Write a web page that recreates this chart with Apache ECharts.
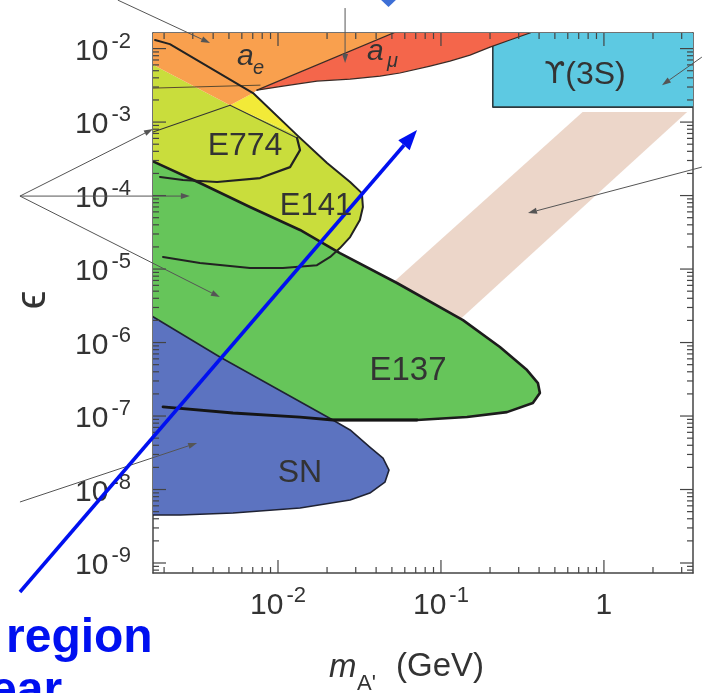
<!DOCTYPE html>
<html>
<head>
<meta charset="utf-8">
<script src="https://cdn.jsdelivr.net/npm/echarts@6/dist/echarts.min.js"></script>
<style>
html, body { margin: 0; padding: 0; background: #fff; }
#chart { width: 702px; height: 693px; }
</style>
</head>
<body>
<div id="chart"></div>
<script>
// Dark photon A' parameter space: mass m_A' (GeV) against kinetic mixing ϵ.
// Every region is a list of [mass, epsilon] vertices.

const massRange = [1.71e-3, 3.52];
const epsRange = [7.31e-10, 1.63e-2];

// electron g-2
const aeRegion = [[1.64e-3,1.9e-2],[6.01e-2,1.9e-2],[7.43e-3,2.72e-3],[7.03e-3,2.48e-3],[5.08e-3,1.70e-3],[1.64e-3,6.35e-3]];
// muon g-2
const amuRegion = [[6.01e-2,1.9e-2],[0.405,1.9e-2],[0.3516,1.63e-2],[0.265,1.31e-2],[0.200,1.047e-2],[0.1507,8.16e-3],[0.1135,6.76e-3],[8.57e-2,5.78e-3],[5.6e-2,4.65e-3],[4.23e-2,4.23e-3],[2.77e-2,3.85e-3],[1.734e-2,3.61e-3],[1.074e-2,3.09e-3],[7.43e-3,2.72e-3]];
const aeDivider = [[7.43e-3,2.72e-3],[6.01e-2,1.9e-2]];
const amuEdge = [[0.405,1.9e-2],[0.3516,1.63e-2],[0.265,1.31e-2],[0.200,1.047e-2],[0.1507,8.16e-3],[0.1135,6.76e-3],[8.57e-2,5.78e-3],[5.6e-2,4.65e-3],[4.23e-2,4.23e-3],[2.77e-2,3.85e-3],[1.734e-2,3.61e-3],[1.074e-2,3.09e-3],[7.43e-3,2.72e-3]];
const aeInnerLine = [[1.71e-3,2.90e-3],[7.76e-3,3.18e-3]];

// BaBar Υ(3S)
const upsilonRegion = [[0.208,0.02],[4,0.02],[4,1.6e-3],[0.208,1.6e-3]];
const upsilonEdge = [[0.208,0.02],[0.208,1.6e-3],[4,1.6e-3]];

// diagonal band
const bandRegion = [[0.740,1.37e-3],[3.24,1.37e-3],[0.120,1.73e-6],[0.0418,4.42e-6]];

// E141 / E774 beam dumps
const e141Region = [[1.64e-3,6.35e-3],[5.08e-3,1.70e-3],[1.309e-2,6.65e-4],[2.0e-2,2.77e-4],[2.77e-2,1.53e-4],[3.27e-2,1.08e-4],[3.32e-2,6.98e-5],[3.18e-2,4.65e-5],[2.77e-2,2.72e-5],[2.40e-2,1.93e-5],[2.09e-2,1.46e-5],[1.734e-2,1.13e-5],[1.074e-2,1.03e-5],[6.73e-3,1.03e-5],[3.32e-3,1.21e-5],[1.97e-3,1.46e-5],[1.64e-3,1.46e-5]];
const wedgeRegion = [[5.08e-3,1.70e-3],[7.03e-3,2.48e-3],[1.309e-2,6.65e-4]];
const e141Edge = [[1.76e-3,1.31e-2],[2.17e-3,1.15e-2],[7.03e-3,2.48e-3],[1.309e-2,6.65e-4],[2.0e-2,2.77e-4],[2.77e-2,1.53e-4],[3.27e-2,1.08e-4],[3.32e-2,6.98e-5],[3.18e-2,4.65e-5],[2.77e-2,2.72e-5],[2.40e-2,1.93e-5],[2.09e-2,1.46e-5],[1.734e-2,1.13e-5],[1.074e-2,1.03e-5],[6.73e-3,1.03e-5],[3.32e-3,1.21e-5],[1.97e-3,1.46e-5]];
const e774UpperEdge = [[1.71e-3,7.31e-4],[5.08e-3,1.70e-3],[1.309e-2,6.05e-4]];
const e774LowerEdge = [[1.309e-2,6.05e-4],[1.365e-2,4.16e-4],[1.186e-2,2.44e-4],[7.76e-3,1.73e-4],[4.23e-3,1.53e-4],[2.61e-3,1.63e-4],[1.89e-3,1.79e-4]];

// E137
const e137Region = [[1.64e-3,3.04e-4],[3.32e-3,1.48e-4],[6.73e-3,6.98e-5],[1.365e-2,3.40e-5],[2.40e-2,1.65e-5],[5.37e-2,6.46e-6],[0.1365,2.02e-6],[0.230,8.69e-7],[0.3373,4.22e-7],[0.3935,2.81e-7],[0.4046,2.06e-7],[0.3664,1.50e-7],[0.2541,1.13e-7],[0.1445,9.68e-8],[7.13e-2,8.83e-8],[2.17e-2,8.83e-8],[1.365e-2,9.68e-8],[5.30e-3,1.10e-7],[1.97e-3,1.33e-7],[1.64e-3,1.33e-7]];
const e137LowerEdge = [[1.97e-3,1.33e-7],[5.30e-3,1.10e-7],[1.365e-2,9.68e-8],[2.17e-2,8.83e-8],[7.13e-2,8.83e-8]];

// supernova cooling
const snRegion = [[1.64e-3,2.37e-6],[4.40e-3,6.35e-7],[2.17e-2,8.83e-8],[2.77e-2,6.46e-8],[3.66e-2,3.78e-8],[4.41e-2,2.68e-8],[4.80e-2,1.84e-8],[4.53e-2,1.26e-8],[3.66e-2,8.95e-9],[2.77e-2,7.20e-9],[1.365e-2,5.60e-9],[5.30e-3,4.79e-9],[2.51e-3,4.50e-9],[1.64e-3,4.50e-9]];

// pointer arrows, [from, to] in [mass, epsilon]
const pointerArrows = [
  [[2.61e-4,9.84e-5],[1.71e-3,8.04e-4]],
  [[2.61e-4,9.84e-5],[2.88e-3,9.84e-5]],
  [[2.61e-4,9.84e-5],[4.40e-3,4.16e-6]],
  [[1.04e-3,4.57e-2],[3.83e-3,1.19e-2]],
  [[2.58e-2,3.56e-2],[2.58e-2,6.35e-3]],
  [[3.99,2.44e-4],[0.342,5.78e-5]],
  [[3.99,7.66e-3],[2.27,3.18e-3]],
  [[2.61e-4,6.76e-9],[3.19e-3,4.30e-8]]
];
const openRegionArrow = [[[2.61e-4,4.03e-10],[7.13e-2,7.78e-4]]];

const xDecades = [-3, -2, -1, 0];
const yDecades = [-10, -9, -8, -7, -6, -5, -4, -3, -2];

const FONT = '"Liberation Sans", Arial, Helvetica, sans-serif';
const INK = '#333';

// tick marks on all four sides: [x, y, side, major]
function logTicks(decades, range) {
  const out = [];
  decades.forEach(n => {
    for (let k = 1; k <= 9; k++) {
      const v = k * Math.pow(10, n);
      if (v >= range[0] && v <= range[1]) out.push([v, k === 1 ? 1 : 0]);
    }
  });
  return out;
}
const tickData = [];
logTicks(xDecades, massRange).forEach(([v, m]) => {
  tickData.push([v, epsRange[0], 0, m]);
  tickData.push([v, epsRange[1], 1, m]);
});
logTicks(yDecades, epsRange).forEach(([v, m]) => {
  tickData.push([massRange[0], v, 2, m]);
  tickData.push([massRange[1], v, 3, m]);
});

function powLabel(v) {
  const e = Math.round(Math.log10(v));
  if (Math.abs(Math.log10(v) - e) > 1e-6) return '';
  return e === 0 ? '{b|1}' : '{b|10}{s|' + e + '}';
}
const labelRich = {
  b: { fontSize: 30, color: INK, fontFamily: FONT, padding: [6, 0, 0, 0] },
  s: { fontSize: 22, color: INK, fontFamily: FONT, verticalAlign: 'top', padding: [0, 0, 0, 3] }
};

let zc = 10;
function area(points, fill, stroke, lw) {
  return {
    type: 'custom', coordinateSystem: 'cartesian2d', clip: true, silent: true, z: zc++,
    data: points,
    renderItem(params, api) {
      if (params.dataIndex !== 0) return null;
      return { type: 'polygon', shape: { points: points.map(p => api.coord(p)) },
        style: { fill: fill, stroke: stroke || null, lineWidth: lw || 0 } };
    }
  };
}
function edge(points, color, lw) {
  return {
    type: 'custom', coordinateSystem: 'cartesian2d', clip: true, silent: true, z: zc++,
    data: points,
    renderItem(params, api) {
      if (params.dataIndex !== 0) return null;
      return { type: 'polyline', shape: { points: points.map(p => api.coord(p)) },
        style: { stroke: color, lineWidth: lw, fill: null, lineJoin: 'round', lineCap: 'round' } };
    }
  };
}
function arrows(list, color, lw, headLen, headW) {
  return {
    type: 'custom', coordinateSystem: 'cartesian2d', clip: false, silent: true, z: zc++,
    data: list.map(a => a[a.length - 1]),
    renderItem(params, api) {
      const pts = list[params.dataIndex].map(p => api.coord(p));
      const tip = pts[pts.length - 1], prev = pts[pts.length - 2];
      const dx = tip[0] - prev[0], dy = tip[1] - prev[1], d = Math.hypot(dx, dy);
      const ux = dx / d, uy = dy / d;
      const bx = tip[0] - ux * headLen, by = tip[1] - uy * headLen;
      return { type: 'group', children: [
        { type: 'polyline', shape: { points: pts.slice(0, -1).concat([[bx, by]]) },
          style: { stroke: color, lineWidth: lw, fill: null } },
        { type: 'polygon', shape: { points: [tip, [bx - uy * headW / 2, by + ux * headW / 2], [bx + uy * headW / 2, by - ux * headW / 2]] },
          style: { fill: color } }
      ] };
    }
  };
}

const series = [
  area(bandRegion, '#ECD6C9'),
  area(upsilonRegion, '#5DC9E2'),
  edge(upsilonEdge, '#2e3a3e', 1.6),
  area(e141Region, '#C9DD3C'),
  area(wedgeRegion, '#F2EA38'),
  area(aeRegion, '#F9A04E'),
  area(amuRegion, '#F4664B'),
  edge(amuEdge, '#3a2a25', 1.2),
  edge(aeDivider, '#3a2a25', 1.2),
  edge(aeInnerLine, '#5a4a30', 1),
  area(e137Region, '#66C55A'),
  edge(e137Region, '#1c1c1c', 2.6),
  edge(e141Edge, '#222', 2),
  edge(e774UpperEdge, '#333', 1.1),
  edge(e774LowerEdge, '#222', 2.2),
  area(snRegion, '#5C73C0'),
  edge(snRegion, '#1f2233', 1.6),
  edge(e137LowerEdge, '#151515', 2.8),
  {
    type: 'custom', coordinateSystem: 'cartesian2d', clip: false, silent: true, z: 60,
    data: tickData,
    renderItem(params, api) {
      const p = api.coord([api.value(0), api.value(1)]);
      const side = api.value(2);
      const len = api.value(3) ? 13 : 6;
      const d = [[0, -1], [0, 1], [1, 0], [-1, 0]][side];
      return { type: 'line', shape: { x1: p[0], y1: p[1], x2: p[0] + d[0] * len, y2: p[1] + d[1] * len },
        style: { stroke: '#444', lineWidth: 1.2 } };
    }
  }
];
zc = 70;
series.push(arrows(pointerArrows, '#555', 1, 9, 6));
series.push(arrows(openRegionArrow, '#0010F0', 3.5, 20, 15));

const regionText = (text, x, y, size) => ({
  type: 'text', x: x, y: y, z: 100, silent: true,
  style: { text: text, font: size + 'px ' + FONT, fill: INK, align: 'center', verticalAlign: 'middle' }
});
const italicText = (text, x, y, size) => ({
  type: 'text', x: x, y: y, z: 100, silent: true,
  style: { text: text, font: 'italic ' + size + 'px ' + FONT, fill: INK, align: 'left', verticalAlign: 'middle' }
});

const chart = echarts.init(document.getElementById('chart'), null, { renderer: 'canvas' });
chart.setOption({
  animation: false,
  backgroundColor: '#fff',
  grid: { left: 153, top: 33, width: 540, height: 540, containLabel: false, outerBoundsMode: 'none' },
  xAxis: [
    {
      type: 'log', logBase: 10, min: massRange[0], max: massRange[1], position: 'bottom',
      axisLine: { show: true, lineStyle: { color: '#444', width: 1.5 } },
      axisTick: { show: false }, splitLine: { show: false }, minorTick: { show: false },
      axisLabel: { margin: 12, formatter: powLabel, rich: labelRich, showMinLabel: false, showMaxLabel: false }
    },
    {
      type: 'log', logBase: 10, min: massRange[0], max: massRange[1], position: 'top',
      axisLine: { show: true, lineStyle: { color: '#444', width: 1.5 } },
      axisTick: { show: false }, splitLine: { show: false }, axisLabel: { show: false }
    }
  ],
  yAxis: [
    {
      type: 'log', logBase: 10, min: epsRange[0], max: epsRange[1], position: 'left',
      axisLine: { show: true, lineStyle: { color: '#444', width: 1.5 } },
      axisTick: { show: false }, splitLine: { show: false }, minorTick: { show: false },
      axisLabel: { margin: 22, formatter: powLabel, rich: labelRich, showMinLabel: false, showMaxLabel: false }
    },
    {
      type: 'log', logBase: 10, min: epsRange[0], max: epsRange[1], position: 'right',
      axisLine: { show: true, lineStyle: { color: '#444', width: 1.5 } },
      axisTick: { show: false }, splitLine: { show: false }, axisLabel: { show: false }
    }
  ],
  series: series,
  graphic: [
    regionText('E774', 245, 146, 32),
    regionText('E141', 316, 206, 31),
    regionText('E137', 408, 371, 33),
    regionText('SN', 300, 473, 32),
    { type: 'text', x: 585, y: 75, z: 100, silent: true,
      style: { text: '{u|ϒ}{t|(3S)}', align: 'center', verticalAlign: 'middle',
        rich: { u: { fontFamily: '"DejaVu Sans", sans-serif', fontSize: 30, fill: INK },
                t: { fontFamily: FONT, fontSize: 32, fill: INK } } } },
    italicText('a', 237, 57, 30),
    italicText('e', 253, 68, 20),
    italicText('a', 367, 52, 30),
    italicText('μ', 387, 61, 20),
    // axis titles
    italicText('m', 329, 668, 33),
    { type: 'text', x: 357, y: 684, z: 100, silent: true,
      style: { text: "A'", font: '22px ' + FONT, fill: INK, align: 'left', verticalAlign: 'middle' } },
    { type: 'text', x: 396, y: 667, z: 100, silent: true,
      style: { text: '(GeV)', font: '33px ' + FONT, fill: INK, align: 'left', verticalAlign: 'middle' } },
    { type: 'text', x: 33, y: 300, rotation: Math.PI / 2, z: 100, silent: true,
      style: { text: 'ϵ', font: '42px ' + FONT, fill: INK, align: 'center', verticalAlign: 'middle' } },
    // slide annotations
    { type: 'text', x: 6, y: 663, z: 100, silent: true,
      style: { text: 'region', font: 'bold 48px ' + FONT, fill: '#0010F0', align: 'left', verticalAlign: 'bottom' } },
    { type: 'text', x: -10, y: 716, z: 100, silent: true,
      style: { text: 'ear', font: 'bold 48px ' + FONT, fill: '#0010F0', align: 'left', verticalAlign: 'bottom' } },
    { type: 'polygon', z: 100, silent: true,
      shape: { points: [[379, -2], [388.5, 7], [398, -2]] }, style: { fill: '#3D6FD6' } }
  ]
});
</script>
</body>
</html>
